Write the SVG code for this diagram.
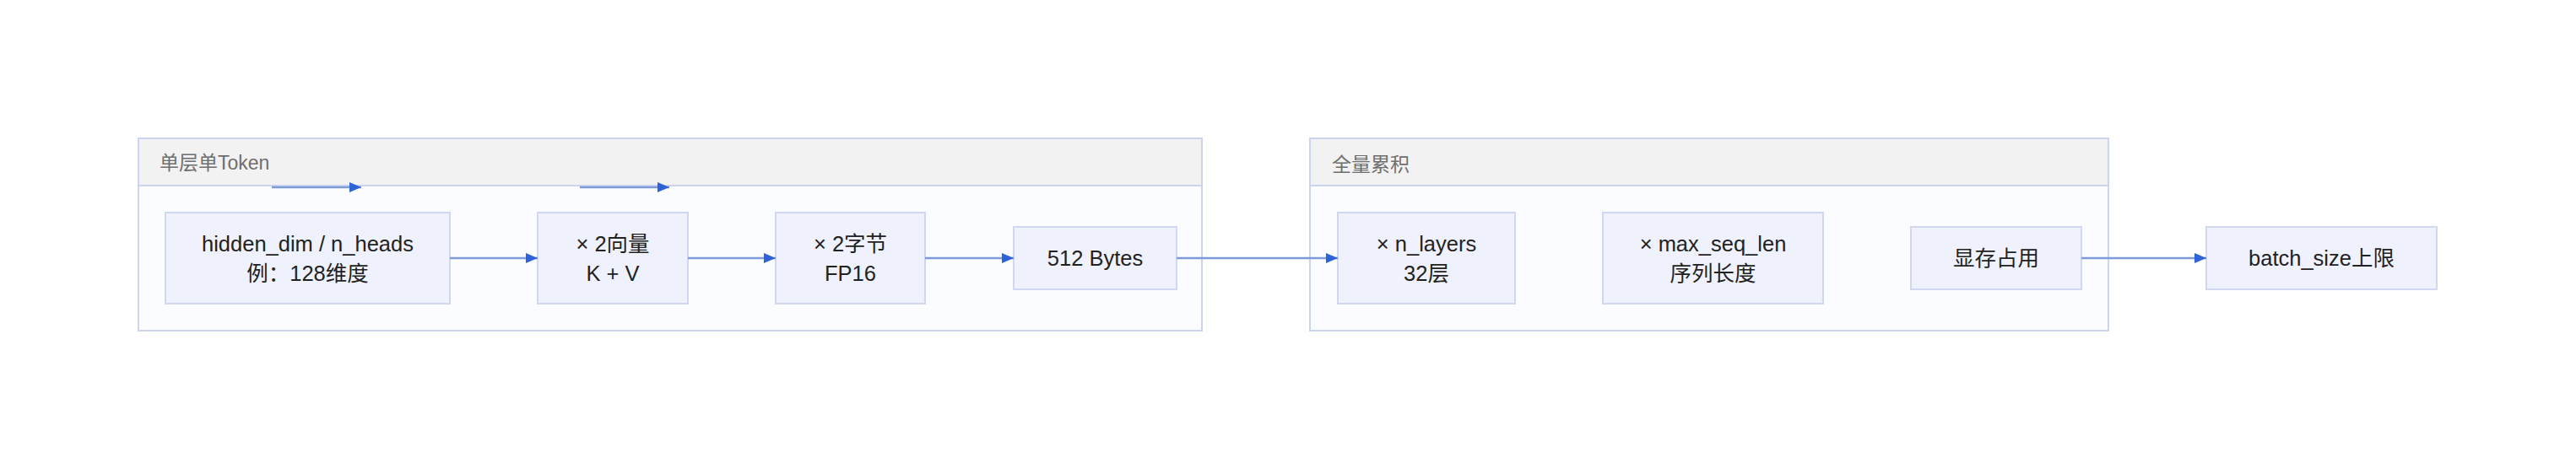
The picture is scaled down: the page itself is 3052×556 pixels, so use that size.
<svg xmlns="http://www.w3.org/2000/svg" width="3052" height="556" viewBox="0 0 3052 556">
<defs>
<style>
.grp{fill:#fbfcff;stroke:#ccd4f0;stroke-width:2}
.hdr{fill:#f2f2f2;stroke:none}
.hline{stroke:#ccd4f0;stroke-width:2}
.ttl{font-family:"Liberation Sans","Noto Sans CJK SC",sans-serif;font-size:23px;fill:#6e6e6e}
.node{fill:#eff2fc;stroke:#cfd7f1;stroke-width:2}
.lbl{font-family:"Liberation Sans","Noto Sans CJK SC",sans-serif;font-size:25.5px;fill:#222;text-anchor:middle}
.edge{stroke:#7d9bd9;stroke-width:2.5;fill:none}
</style>
<marker id="ah" viewBox="0 0 14 12" refX="14" refY="6" markerWidth="14" markerHeight="12" markerUnits="userSpaceOnUse" orient="auto">
<path d="M0,0 L14,6 L0,12 z" fill="#2e63d8"/>
</marker>
</defs>
<rect width="3052" height="556" fill="#ffffff"/>
<g id="group-single">
<rect class="grp" x="164" y="164" width="1260" height="228"/>
<rect class="hdr" x="165" y="165" width="1258" height="55"/>
<line class="hline" x1="164" y1="220" x2="1424" y2="220"/>
<text class="ttl" x="189" y="201">单层单Token</text>
</g>
<g id="group-total">
<rect class="grp" x="1552" y="164" width="946" height="228"/>
<rect class="hdr" x="1553" y="165" width="944" height="55"/>
<line class="hline" x1="1552" y1="220" x2="2498" y2="220"/>
<text class="ttl" x="1578" y="203">全量累积</text>
</g>
<g id="n1">
<rect class="node" x="196" y="252" width="337" height="108"/>
<text class="lbl" x="364.5" y="298">hidden_dim / n_heads</text>
<text class="lbl" x="364.5" y="333">例：128维度</text>
</g>
<g id="n2">
<rect class="node" x="637" y="252" width="178" height="108"/>
<text class="lbl" x="726" y="298">× 2向量</text>
<text class="lbl" x="726" y="333">K + V</text>
</g>
<g id="n3">
<rect class="node" x="919" y="252" width="177" height="108"/>
<text class="lbl" x="1007.5" y="298">× 2字节</text>
<text class="lbl" x="1007.5" y="333">FP16</text>
</g>
<g id="n4">
<rect class="node" x="1201" y="269" width="193" height="74"/>
<text class="lbl" x="1297.5" y="315">512 Bytes</text>
</g>
<g id="n5">
<rect class="node" x="1585" y="252" width="210" height="108"/>
<text class="lbl" x="1690" y="298">× n_layers</text>
<text class="lbl" x="1690" y="333">32层</text>
</g>
<g id="n6">
<rect class="node" x="1899" y="252" width="261" height="108"/>
<text class="lbl" x="2029.5" y="298">× max_seq_len</text>
<text class="lbl" x="2029.5" y="333">序列长度</text>
</g>
<g id="n7">
<rect class="node" x="2264" y="269" width="202" height="74"/>
<text class="lbl" x="2365" y="315">显存占用</text>
</g>
<g id="n8">
<rect class="node" x="2614" y="269" width="273" height="74"/>
<text class="lbl" x="2750.5" y="315">batch_size上限</text>
</g>
<g id="connectors">
<line class="edge" x1="322" y1="222" x2="428" y2="222" marker-end="url(#ah)"/>
<line class="edge" x1="687" y1="222" x2="793" y2="222" marker-end="url(#ah)"/>
<line class="edge" x1="533" y1="306" x2="637" y2="306" marker-end="url(#ah)"/>
<line class="edge" x1="815" y1="306" x2="919" y2="306" marker-end="url(#ah)"/>
<line class="edge" x1="1096" y1="306" x2="1201" y2="306" marker-end="url(#ah)"/>
<line class="edge" x1="1394" y1="306" x2="1585" y2="306" marker-end="url(#ah)"/>
<line class="edge" x1="2466" y1="306" x2="2614" y2="306" marker-end="url(#ah)"/>
</g>
</svg>
